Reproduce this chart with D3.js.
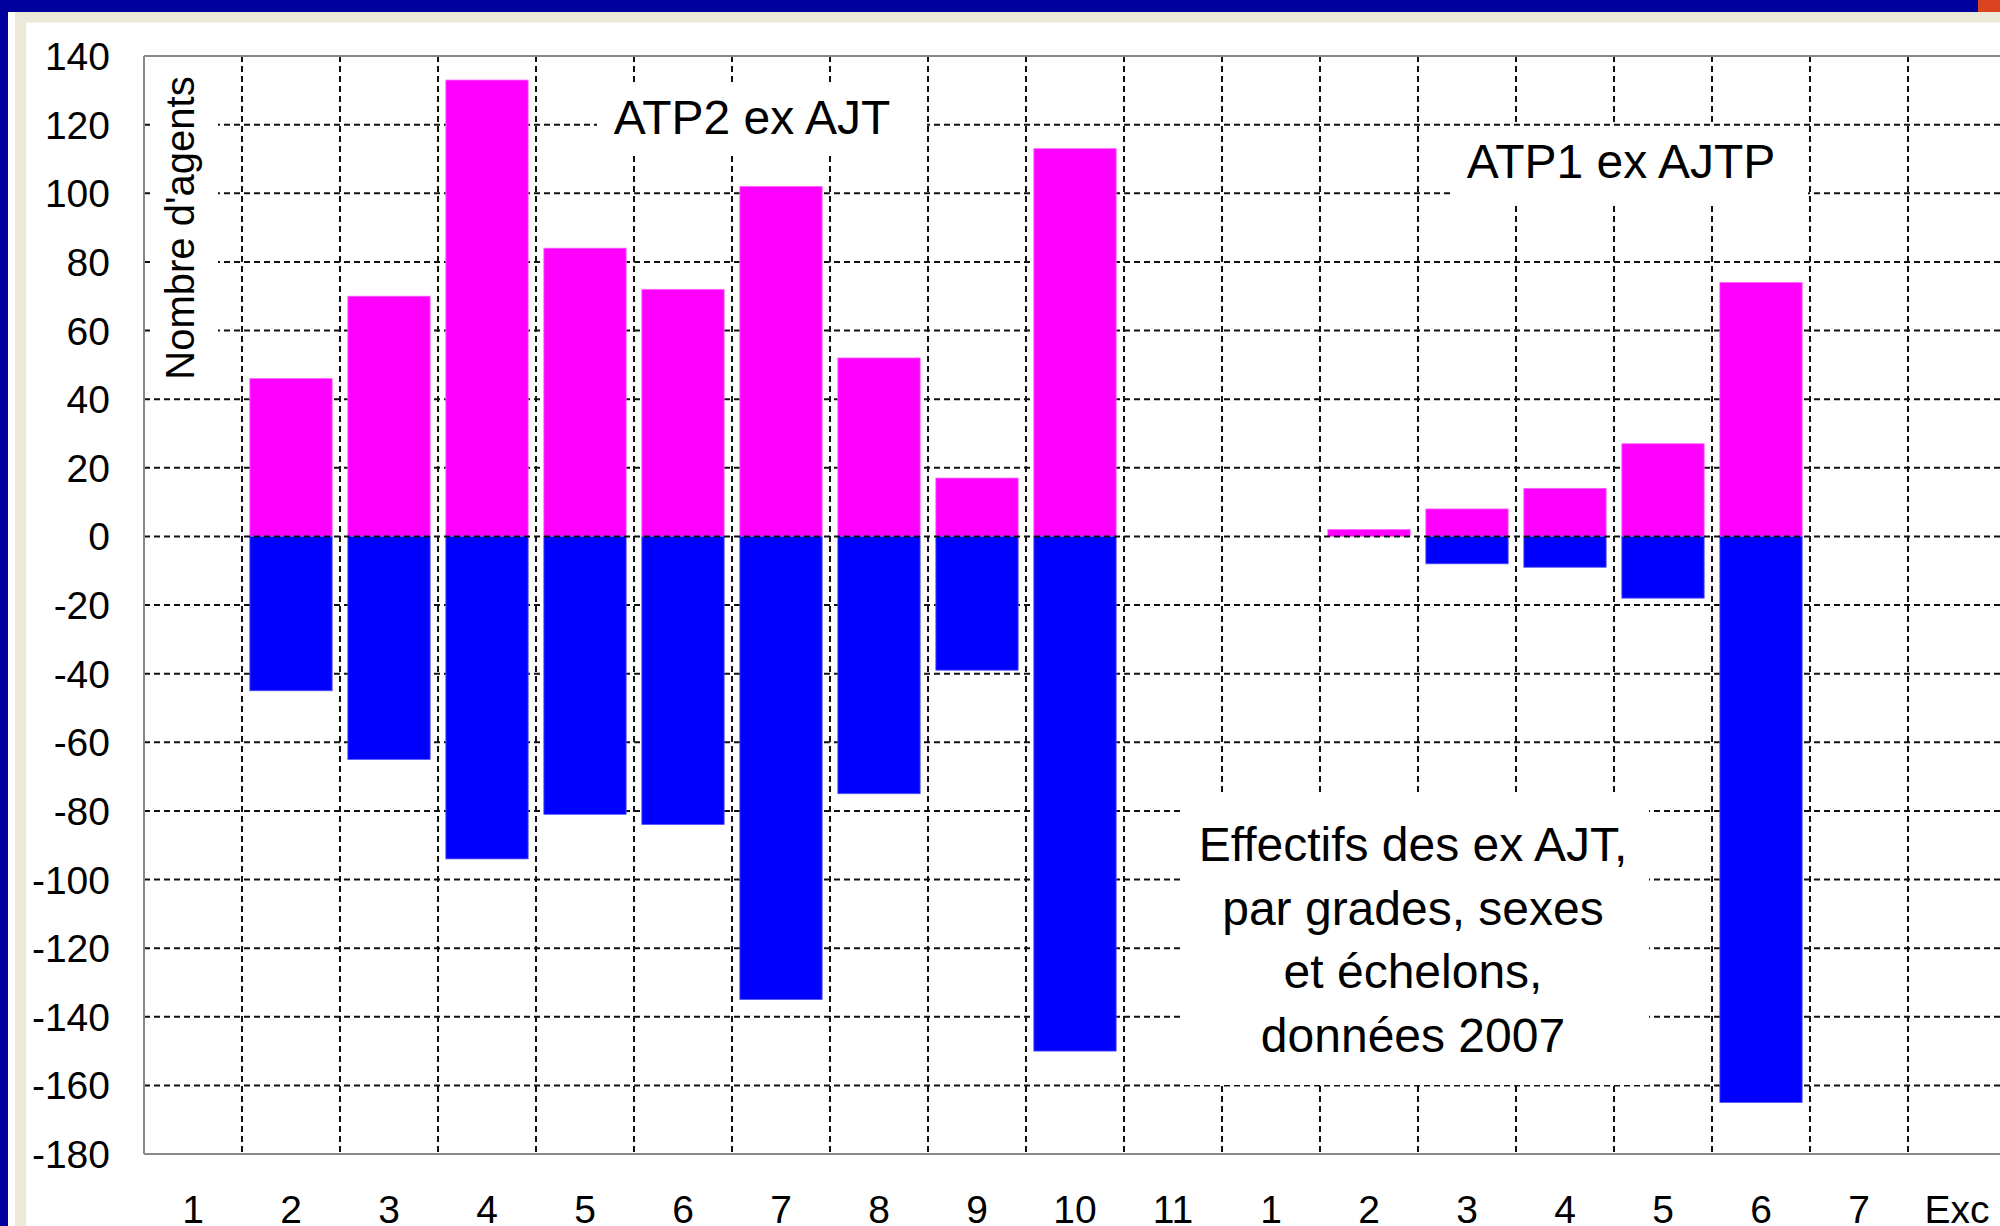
<!DOCTYPE html>
<html>
<head>
<meta charset="utf-8">
<script src="https://cdnjs.cloudflare.com/ajax/libs/d3/7.8.5/d3.min.js"></script>
<style>
  body { margin: 0; overflow: hidden; background: #fff; }
  text { font-family: "Liberation Sans", Arial, sans-serif; fill: #000; }
</style>
</head>
<body>
<svg id="svg1" width="2000" height="1226"></svg>
<script>
// echelons : ATP2 ex AJT (1..11) puis ATP1 ex AJTP (1..7, Exc)
var categories = ["1","2","3","4","5","6","7","8","9","10","11","1","2","3","4","5","6","7","Exc"];
var femmes = [0, 46, 70, 133, 84, 72, 102, 52, 17, 113, 0, 0, 2, 8, 14, 27, 74, 0, 0];
var hommes = [0, -45, -65, -94, -81, -84, -135, -75, -39, -150, 0, 0, 0, -8, -9, -18, -165, 0, 0];
var yTicks = [140, 120, 100, 80, 60, 40, 20, 0, -20, -40, -60, -80, -100, -120, -140, -160, -180];
var yTitle = "Nombre d'agents";
var labelATP2 = "ATP2 ex AJT";
var labelATP1 = "ATP1 ex AJTP";
var note = ["Effectifs des ex AJT,", "par grades, sexes", "et échelons,", "données 2007"];

var width = 2000;
var height = 1226;
var svg1 = d3.select("#svg1");

// cadre de la fenetre
svg1.append("rect").attr("x", 0).attr("y", 0).attr("width", width).attr("height", 12).attr("fill", "#00009c");
svg1.append("rect").attr("x", 1978).attr("y", 0).attr("width", 22).attr("height", 12).attr("fill", "#d9431f");
svg1.append("rect").attr("x", 0).attr("y", 0).attr("width", 8).attr("height", height).attr("fill", "#00009c");
svg1.append("rect").attr("x", 15).attr("y", 12).attr("width", width - 15).attr("height", 10.5).attr("fill", "#ece9d8");
svg1.append("rect").attr("x", 15).attr("y", 12).attr("width", 11).attr("height", height).attr("fill", "#ece9d8");

var plotLeft = 144, plotTop = 56, plotBottom = 1154;
var step = 98;

var x = d3.scaleBand()
  .domain(d3.range(categories.length))
  .range([plotLeft, plotLeft + step * categories.length])
  .padding(0);

var y = d3.scaleLinear()
  .domain([-180, 140])
  .range([plotBottom, plotTop]);

var g = svg1.append("g");

// grille
g.selectAll(".hgrid")
  .data(yTicks.filter(function(d) { return d !== 140 && d !== -180 && d !== 0; }))
  .enter()
  .append("line")
  .attr("x1", plotLeft).attr("x2", width)
  .attr("y1", function(d) { return y(d); })
  .attr("y2", function(d) { return y(d); })
  .attr("stroke", "#111")
  .attr("stroke-width", 2)
  .attr("stroke-dasharray", "6,4");

g.selectAll(".vgrid")
  .data(d3.range(1, categories.length))
  .enter()
  .append("line")
  .attr("x1", function(i) { return x(i); })
  .attr("x2", function(i) { return x(i); })
  .attr("y1", plotTop).attr("y2", plotBottom)
  .attr("stroke", "#111")
  .attr("stroke-width", 2)
  .attr("stroke-dasharray", "6,4");

// boites blanches des textes
var boxes = [[150, 58, 68, 332], [597, 82, 330, 73], [1452, 126, 356, 76], [1181, 793, 468, 292]];
g.selectAll(".box")
  .data(boxes)
  .enter()
  .append("rect")
  .attr("x", function(d) { return d[0]; })
  .attr("y", function(d) { return d[1]; })
  .attr("width", function(d) { return d[2]; })
  .attr("height", function(d) { return d[3]; })
  .attr("fill", "#fff");

// barres
var bw = x.bandwidth() * 0.84;
var off = x.bandwidth() * 0.08;

g.selectAll(".fem")
  .data(femmes)
  .enter()
  .append("rect")
  .attr("x", function(d, i) { return x(i) + off; })
  .attr("y", function(d) { return y(d); })
  .attr("width", bw)
  .attr("height", function(d) { return y(0) - y(d); })
  .attr("fill", "#ff00ff")
  .attr("stroke", "#ff66ff")
  .attr("stroke-width", function(d) { return d > 0 ? 0.8 : 0; });

g.selectAll(".hom")
  .data(hommes)
  .enter()
  .append("rect")
  .attr("x", function(d, i) { return x(i) + off; })
  .attr("y", y(0))
  .attr("width", bw)
  .attr("height", function(d) { return y(d) - y(0); })
  .attr("fill", "#0000ff")
  .attr("stroke", "#5555ff")
  .attr("stroke-width", function(d) { return d < 0 ? 0.8 : 0; });

// ligne du zero par dessus les barres
g.append("line")
  .attr("x1", plotLeft).attr("x2", width)
  .attr("y1", y(0)).attr("y2", y(0))
  .attr("stroke", "#111")
  .attr("stroke-width", 2)
  .attr("stroke-dasharray", "6,4");

// cadre du graphe
g.append("line").attr("x1", plotLeft).attr("x2", plotLeft).attr("y1", plotTop).attr("y2", plotBottom)
  .attr("stroke", "#888").attr("stroke-width", 2);
g.append("line").attr("x1", plotLeft).attr("x2", width).attr("y1", plotTop).attr("y2", plotTop)
  .attr("stroke", "#888").attr("stroke-width", 2);
g.append("line").attr("x1", plotLeft).attr("x2", width).attr("y1", plotBottom).attr("y2", plotBottom)
  .attr("stroke", "#888").attr("stroke-width", 2);

// axe y
g.selectAll(".ylab")
  .data(yTicks)
  .enter()
  .append("text")
  .attr("x", 110)
  .attr("y", function(d) { return y(d); })
  .attr("dy", "0.36em")
  .attr("text-anchor", "end")
  .style("font-size", "39px")
  .text(function(d) { return d; });

// axe x
g.selectAll(".xlab")
  .data(categories)
  .enter()
  .append("text")
  .attr("x", function(d, i) { return x(i) + x.bandwidth() / 2; })
  .attr("y", 1223)
  .attr("text-anchor", "middle")
  .style("font-size", "39px")
  .text(function(d) { return d; });

g.append("text")
  .attr("transform", "translate(194,228) rotate(-90)")
  .attr("text-anchor", "middle")
  .style("font-size", "40px")
  .text(yTitle);

g.append("text")
  .attr("x", 752).attr("y", 134)
  .attr("text-anchor", "middle")
  .style("font-size", "48px")
  .text(labelATP2);

g.append("text")
  .attr("x", 1621).attr("y", 178)
  .attr("text-anchor", "middle")
  .style("font-size", "48px")
  .text(labelATP1);

g.selectAll(".note")
  .data(note)
  .enter()
  .append("text")
  .attr("x", 1413)
  .attr("y", function(d, i) { return 861 + i * 63.7; })
  .attr("text-anchor", "middle")
  .style("font-size", "48px")
  .text(function(d) { return d; });
</script>
</body>
</html>
